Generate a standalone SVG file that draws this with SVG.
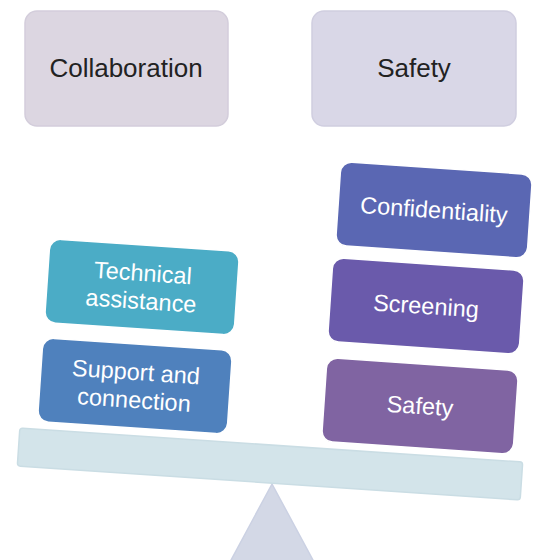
<svg xmlns="http://www.w3.org/2000/svg" width="539" height="560" viewBox="0 0 539 560">
<style>
.t{font-family:"Liberation Sans",Arial,sans-serif;text-anchor:middle}
.top{font-size:26px;fill:#222}
.in{font-size:23.5px;fill:#fff}
.box{stroke:#fff;stroke-width:1.5}
</style>
<rect width="539" height="560" fill="#fff"/>
<g id="fulcrum"><polygon points="272,484 230,562 314,562" fill="#d3d8e6" stroke="#cbd1e3" stroke-width="1.5"/></g>
<g id="beam" transform="rotate(3.87 270 464)"><rect x="18" y="445" width="504" height="38" rx="3" fill="#d3e4ea" stroke="#cadde4" stroke-width="1.5"/></g>
<g id="collaboration"><rect x="25" y="11" width="203" height="115" rx="12" fill="#dcd6e1" stroke="#d3cddb" stroke-width="1.5"/><text class="t top" x="126" y="77">Collaboration</text></g>
<g id="safety-top"><rect x="312" y="11" width="204" height="115" rx="12" fill="#d9d7e7" stroke="#d0cee0" stroke-width="1.5"/><text class="t top" x="414" y="77">Safety</text></g>
<g id="technical" transform="rotate(3.9 142 287)"><rect class="box" x="47" y="245" width="190" height="84" rx="11" fill="#4bacc6"/><text class="t in" x="142" y="281">Technical</text><text class="t in" x="142" y="309">assistance</text></g>
<g id="support" transform="rotate(3.9 135 386)"><rect class="box" x="40" y="344" width="190" height="84" rx="11" fill="#4f81bd"/><text class="t in" x="135" y="380">Support and</text><text class="t in" x="135" y="408">connection</text></g>
<g id="confidentiality" transform="rotate(3.9 434 210)"><rect class="box" x="338" y="168" width="192" height="84" rx="11" fill="#5a67b3"/><text class="t in" x="434" y="218">Confidentiality</text></g>
<g id="screening" transform="rotate(3.9 426 306)"><rect class="box" x="330" y="264" width="192" height="84" rx="11" fill="#6a5aab"/><text class="t in" x="426" y="314">Screening</text></g>
<g id="safety" transform="rotate(3.9 420 406)"><rect class="box" x="324" y="364" width="192" height="84" rx="11" fill="#8064a2"/><text class="t in" x="420" y="414">Safety</text></g>
<g id="connectors"/>
</svg>
